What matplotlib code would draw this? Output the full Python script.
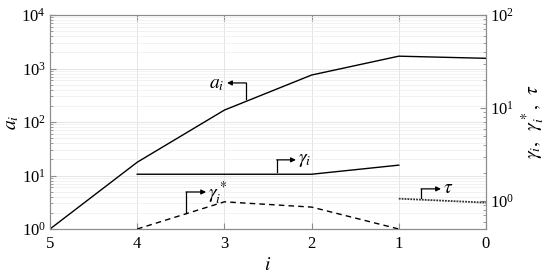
import matplotlib
matplotlib.use('Agg')
import matplotlib.pyplot as plt
import numpy as np

plt.rcParams['font.family'] = ['Liberation Serif', 'DejaVu Serif']
plt.rcParams['mathtext.fontset'] = 'stix'

# data
i_a = [5, 4, 3, 2, 1, 0]
a_vals = [1.0, 17.7, 167, 755, 1700, 1550]

i_g = [4, 3, 2, 1]
gamma_vals = [1.94, 1.94, 1.94, 2.43]

i_gs = [4, 3, 2, 1]
gamma_star_vals = [0.5, 0.98, 0.86, 0.5]

i_t = [1, 0]
tau_vals = [1.06, 0.96]

xticks = [5, 4, 3, 2, 1, 0]

fig = plt.figure(figsize=(5.5, 2.78), dpi=100)
ax = fig.add_axes([50/550, 1-229/278, 436/550, 214/278])
ax2 = ax.twinx()

ax.plot(i_a, a_vals, color='k', lw=1.0)
ax2.plot(i_g, gamma_vals, color='k', lw=1.0)
ax2.plot(i_gs, gamma_star_vals, color='k', lw=1.0, ls=(0, (4, 3)))
ax2.plot(i_t, tau_vals, color='0.2', lw=1.3, ls=(0, (1, 0.6)))

ax.set_xlim(5, 0)
ax.set_yscale('log')
ax.set_ylim(1, 1e4)
ax2.set_yscale('log')
ax2.set_ylim(0.5, 100)
ax.set_xticks(xticks)
ax.set_xticklabels([str(t) for t in xticks])

ax.grid(True, which='major', color='0.88', lw=0.6)
ax.grid(True, which='minor', axis='y', color='0.93', lw=0.5)
ax2.grid(False)

for a in (ax, ax2):
    for s in a.spines.values():
        s.set_color('0.55')
        s.set_linewidth(0.8)
    a.tick_params(which='both', direction='in', color='0.55', labelsize=12, pad=3)
    a.tick_params(which='major', length=4)
    a.tick_params(which='minor', length=2)
ax.tick_params(axis='x', which='both', top=True, pad=5)
ax2.set_yticks([1, 10, 100])

ax.set_xlabel('$i$', fontsize=14, labelpad=4)
ax.set_ylabel('$a_i$', fontsize=14, labelpad=0)
ax2.set_ylabel(r'$\gamma_i,\;\; \gamma_i^*,\;\; \tau$', fontsize=14, rotation=90, labelpad=4)

def label_arrow(axis, x0, y0, y1, xh, txt, tx, ty, ha):
    axis.plot([x0, x0], [y0, y1], color='k', lw=0.9)
    axis.annotate('', xy=(xh, y1), xytext=(x0, y1),
                  arrowprops=dict(arrowstyle='-|>', color='k', lw=0.9,
                                  mutation_scale=7, shrinkA=0, shrinkB=0))
    axis.text(tx, ty, txt, fontsize=14, ha=ha, va='center')

label_arrow(ax, 2.75, 270, 537, 2.97, '$a_i$', 3.0, 510, 'right')
label_arrow(ax2, 2.40, 2.06, 2.77, 2.18, r'$\gamma_i$', 2.16, 2.75, 'left')
label_arrow(ax2, 3.44, 0.74, 1.25, 3.21, r'$\gamma_i^*$', 3.19, 1.22, 'left')
label_arrow(ax2, 0.745, 1.08, 1.35, 0.516, r'$\tau$', 0.49, 1.35, 'left')

fig.savefig('out.png', dpi=100)
